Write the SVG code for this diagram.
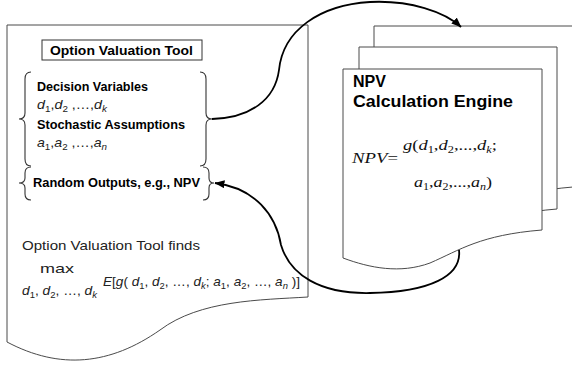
<svg xmlns="http://www.w3.org/2000/svg" width="572" height="369" viewBox="0 0 572 369">
  <style>
    .outline { fill: #ffffff; stroke: #4a4a4a; stroke-width: 1; }
    .brace { fill: none; stroke: #333333; stroke-width: 1.1; }
    .conn { fill: none; stroke: #000000; stroke-width: 1.8; }
    .bold { font-family: "Liberation Sans", Arial, sans-serif; font-weight: bold; fill: #000000; }
    .reg { font-family: "Liberation Sans", Arial, sans-serif; fill: #222222; }
    .it { font-style: italic; }
    .times { font-family: "Liberation Serif", "Times New Roman", serif; font-style: italic; fill: #111111; }
  </style>
  <defs>
    <marker id="arrow" viewBox="0 0 10 8" refX="9.5" refY="4" markerWidth="10" markerHeight="8" markerUnits="userSpaceOnUse" orient="auto">
      <path d="M0,0 L10,4 L0,8 Z" fill="#000000"/>
    </marker>
  </defs>
  <rect width="572" height="369" fill="#ffffff"/>

  <!-- Option Valuation Tool document -->
  <g id="option-tool">
    <path class="outline" d="M7,25 L308,25 L308,297 C260,300 200,300 160,330 C110,365 60,370 7,342 Z"/>
    <g id="title">
      <rect x="42" y="40" width="160" height="20" fill="#ffffff" stroke="#333333" stroke-width="1"/>
      <text class="bold" x="50" y="55" font-size="12" textLength="143" lengthAdjust="spacingAndGlyphs">Option Valuation Tool</text>
    </g>
    <g id="inputs">
      <path class="brace" d="M31,72 Q25,72 25,79 L25,113 Q25,119 19,119 Q25,119 25,125 L25,159 Q25,166 31,166"/>
      <path class="brace" d="M200,72 Q206,72 206,79 L206,113 Q206,119 212,119 Q206,119 206,125 L206,159 Q206,166 200,166"/>
      <text class="bold" x="37" y="91" font-size="12" textLength="111" lengthAdjust="spacingAndGlyphs">Decision Variables</text>
      <text class="reg" x="37" y="109" font-size="13" textLength="70" lengthAdjust="spacingAndGlyphs"><tspan class="it">d</tspan><tspan font-size="9" dy="3">1</tspan><tspan dy="-3">,</tspan><tspan class="it">d</tspan><tspan font-size="9" dy="3">2</tspan><tspan dy="-3"> ,…,</tspan><tspan class="it">d</tspan><tspan class="it" font-size="9" dy="3">k</tspan></text>
      <text class="bold" x="37" y="129" font-size="12" textLength="148" lengthAdjust="spacingAndGlyphs">Stochastic Assumptions</text>
      <text class="reg" x="37" y="147" font-size="13" textLength="70" lengthAdjust="spacingAndGlyphs"><tspan class="it">a</tspan><tspan font-size="9" dy="3">1</tspan><tspan dy="-3">,</tspan><tspan class="it">a</tspan><tspan font-size="9" dy="3">2</tspan><tspan dy="-3"> ,…,</tspan><tspan class="it">a</tspan><tspan class="it" font-size="9" dy="3">n</tspan></text>
    </g>
    <g id="outputs">
      <path class="brace" d="M31,167 Q25,167 25,173 L25,178 Q25,183 19,183 Q25,183 25,188 L25,194 Q25,200 31,200"/>
      <path class="brace" d="M203,167 Q209,167 209,173 L209,178 Q209,183 214,183 Q209,183 209,188 L209,194 Q209,200 203,200"/>
      <text class="bold" x="33" y="187" font-size="12" textLength="167" lengthAdjust="spacingAndGlyphs">Random Outputs, e.g., NPV</text>
    </g>
    <g id="objective">
      <text class="reg" x="22" y="250" font-size="13.5" textLength="178" lengthAdjust="spacingAndGlyphs">Option Valuation Tool finds</text>
      <text class="reg" x="40" y="273" font-size="13" textLength="34" lengthAdjust="spacingAndGlyphs">max</text>
      <text class="reg" x="22" y="295" font-size="13" textLength="75" lengthAdjust="spacingAndGlyphs"><tspan class="it">d</tspan><tspan font-size="9" dy="3">1</tspan><tspan dy="-3">, </tspan><tspan class="it">d</tspan><tspan font-size="9" dy="3">2</tspan><tspan dy="-3">, …, </tspan><tspan class="it">d</tspan><tspan class="it" font-size="9" dy="3">k</tspan></text>
      <text class="reg" x="103" y="286" font-size="13" textLength="197" lengthAdjust="spacingAndGlyphs"><tspan class="it">E</tspan>[<tspan class="it">g</tspan>( <tspan class="it">d</tspan><tspan font-size="9" dy="3">1</tspan><tspan dy="-3">, </tspan><tspan class="it">d</tspan><tspan font-size="9" dy="3">2</tspan><tspan dy="-3">, …, </tspan><tspan class="it">d</tspan><tspan class="it" font-size="9" dy="3">k</tspan><tspan dy="-3">; </tspan><tspan class="it">a</tspan><tspan font-size="9" dy="3">1</tspan><tspan dy="-3">, </tspan><tspan class="it">a</tspan><tspan font-size="9" dy="3">2</tspan><tspan dy="-3">, …, </tspan><tspan class="it">a</tspan><tspan class="it" font-size="9" dy="3">n</tspan><tspan dy="-3"> )]</tspan></text>
    </g>
  </g>

  <!-- NPV Calculation Engine (stacked pages) -->
  <g id="npv-engine">
    <path class="outline" d="M374,26 L573,26 L573,187 C511,192 491,207 461,220 C431,231 401,225 374,215 Z"/>
    <path class="outline" d="M359,47 L557,47 L557,209 C495,214 475,229 445,242 C415,253 385,247 359,237 Z"/>
    <path class="outline" d="M343,69 L542,69 L542,230 C480,235 460,250 430,263 C400,274 370,268 343,258 Z"/>
    <text class="bold" x="353" y="87" font-size="16">NPV</text>
    <text class="bold" x="353" y="107" font-size="16" textLength="160" lengthAdjust="spacingAndGlyphs">Calculation Engine</text>
    <text class="times" x="352" y="163" font-size="15" textLength="46" lengthAdjust="spacingAndGlyphs">NPV<tspan font-style="normal">=</tspan></text>
    <text class="times" x="403" y="150" font-size="15" textLength="94" lengthAdjust="spacingAndGlyphs">g<tspan font-style="normal">(</tspan>d<tspan font-size="10" font-style="normal" dy="3">1</tspan><tspan font-style="normal" dy="-3">,</tspan>d<tspan font-size="10" font-style="normal" dy="3">2</tspan><tspan font-style="normal" dy="-3">,...,</tspan>d<tspan font-size="10" dy="3">k</tspan><tspan font-style="normal" dy="-3">;</tspan></text>
    <text class="times" x="414" y="187" font-size="15" textLength="78" lengthAdjust="spacingAndGlyphs">a<tspan font-size="10" font-style="normal" dy="3">1</tspan><tspan font-style="normal" dy="-3">,</tspan>a<tspan font-size="10" font-style="normal" dy="3">2</tspan><tspan font-style="normal" dy="-3">,...,</tspan>a<tspan font-size="10" dy="3">n</tspan><tspan font-style="normal" dy="-3">)</tspan></text>
  </g>

  <!-- Connectors -->
  <g id="connectors">
    <path class="conn" d="M212,119 C250,118 275,100 279,70 C283,30 320,5 370,2 C410,0 445,12 461,27" marker-end="url(#arrow)"/>
    <path class="conn" d="M459,250 C462,276 430,292 370,293 C320,294 290,275 281,245 C276,215 255,188 215,183" marker-end="url(#arrow)"/>
  </g>
</svg>
